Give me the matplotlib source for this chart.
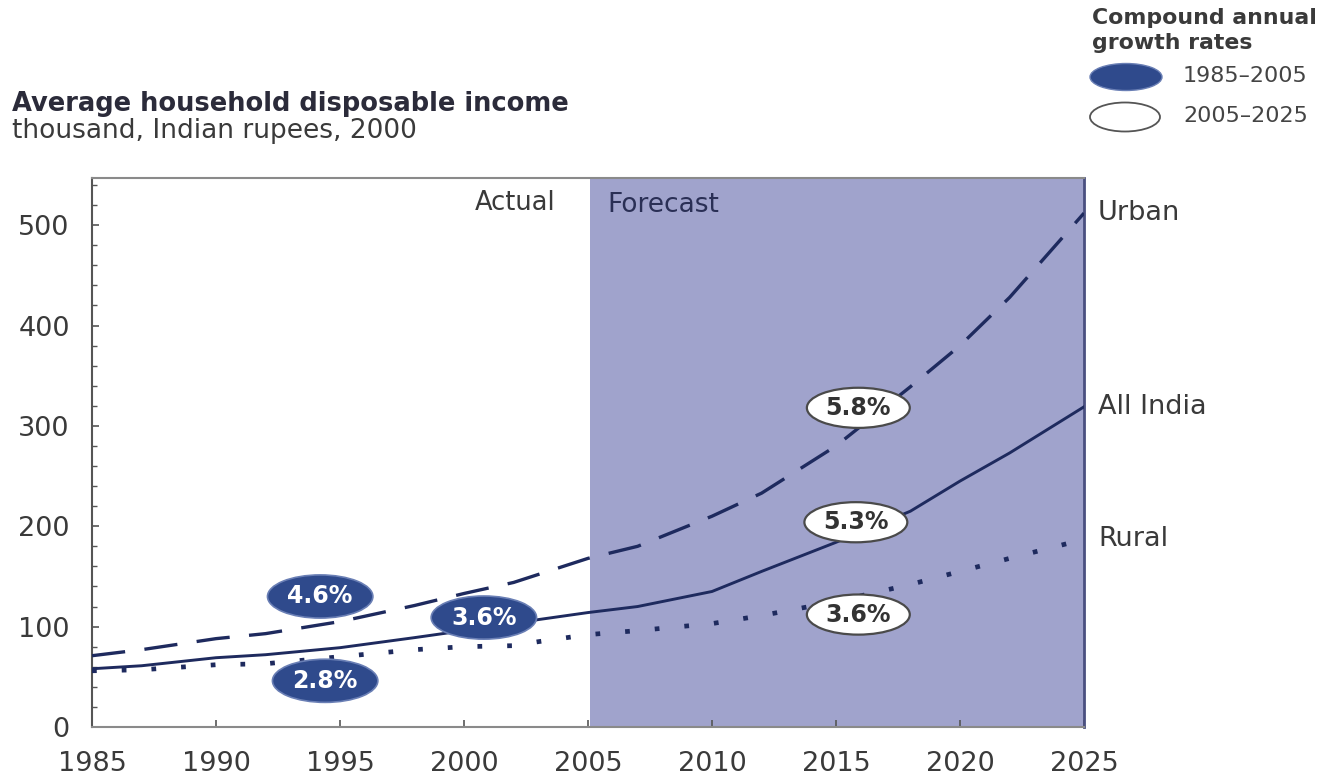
import matplotlib
matplotlib.use("Agg")
import matplotlib.pyplot as plt
from matplotlib.patches import Ellipse

plt.rcParams['font.family'] = ['DejaVu Sans']
plt.rcParams['lines.scale_dashes'] = False

# ---- data ----
years = [1985, 1987, 1990, 1992, 1995, 1998, 2000, 2002, 2003, 2005, 2007,
         2010, 2012, 2015, 2018, 2020, 2022, 2025]
urban = [71, 77, 88, 93, 105, 121, 133, 144, 152, 168, 180,
         210, 233, 280, 339, 380, 428, 512]
all_india = [58, 61, 69, 72, 79, 89, 96, 103, 107, 114, 120,
             135, 155, 184, 215, 245, 273, 319]
rural = [56, 57, 62, 63, 70, 77, 80, 81, 85, 92, 96,
         103, 111, 125, 142, 155, 168, 187]
series_names = ["Urban", "All India", "Rural"]

bubble_labels = ["4.6%", "3.6%", "2.8%", "5.8%", "5.3%", "3.6%"]
bubble_x = [1994.2, 2000.8, 1994.4, 2015.9, 2015.8, 2015.9]
bubble_y = [130, 109, 46, 318, 204, 112]
bubble_filled = [True, True, True, False, False, False]

x_ticks = [1985, 1990, 1995, 2000, 2005, 2010, 2015, 2020, 2025]
y_ticks = [0, 100, 200, 300, 400, 500]

navy = "#1e2a5e"
bubble_blue = "#2f4a8c"
shade = "#a0a3cc"
grey_text = "#3a3a3a"

fig = plt.figure(figsize=(13.26, 7.78), dpi=100)
ax = fig.add_axes([0.0694, 0.0656, 0.8175 - 0.0694, 0.7712 - 0.0656])

ax.axvspan(2005.1, 2025, color=shade, zorder=0, lw=0)

ax.plot(years, urban, color=navy, lw=2.4, dashes=[24, 14],
        dash_capstyle='butt', zorder=3)
ax.plot(years, all_india, color=navy, lw=2.1, zorder=3)
ax.plot(years, rural, color=navy, lw=3.4, dashes=[3.4, 18],
        dash_capstyle='butt', zorder=3)

ax.set_xlim(1985, 2025)
ax.set_ylim(0, 547)
ax.set_xticks(x_ticks)
ax.set_yticks(y_ticks)
ax.set_yticks(range(0, 541, 20), minor=True)
ax.tick_params(axis='both', which='both', direction='in', colors='#555555',
               labelcolor=grey_text, labelsize=19.5)
ax.tick_params(axis='y', which='major', length=5, width=1.2, pad=16)
ax.tick_params(axis='y', which='minor', length=3.5, width=1.0)
ax.tick_params(axis='x', which='major', length=5, width=1.2, pad=17)
for side in ['top', 'bottom']:
    ax.spines[side].set_color('#8a8a8a')
    ax.spines[side].set_linewidth(1.5)
ax.spines['left'].set_color('#555555')
ax.spines['left'].set_linewidth(1.5)
ax.spines['right'].set_color('#4a4f80')
ax.spines['right'].set_linewidth(2)

# Bubbles
for lab, bx, by, filled in zip(bubble_labels, bubble_x, bubble_y, bubble_filled):
    if filled:
        e = Ellipse((bx, by), 4.25, 43, facecolor=bubble_blue,
                    edgecolor="#6a7fb5", lw=1.2, zorder=5)
        tc = "white"
    else:
        e = Ellipse((bx, by), 4.15, 40, facecolor="white",
                    edgecolor="#4a4a4a", lw=1.6, zorder=5)
        tc = "#333333"
    ax.add_patch(e)
    ax.text(bx, by, lab, ha='center', va='center', color=tc,
            fontsize=17, fontweight='bold', zorder=6)

# Actual / Forecast
ax.text(2003.7, 522, "Actual", ha='right', va='center', fontsize=18.5,
        color=grey_text)
ax.text(2005.8, 520, "Forecast", ha='left', va='center', fontsize=19,
        color="#2a2f55")

# Series end labels
for name, vals in zip(series_names, [urban, all_india, rural]):
    ax.annotate(name, xy=(years[-1], vals[-1]), xytext=(10, 0),
                textcoords='offset points', ha='left', va='center',
                fontsize=19.5, color=grey_text, annotation_clip=False)

# Title
fig.text(12 / 1326, 1 - 104 / 778, "Average household disposable income",
         ha='left', va='center', fontsize=18.5, fontweight='bold',
         color="#2b2b3a")
fig.text(12 / 1326, 1 - 131 / 778, "thousand, Indian rupees, 2000",
         ha='left', va='center', fontsize=19, color=grey_text)

# Legend (top right)
fig.text(1092 / 1326, 1 - 18 / 778, "Compound annual", ha='left',
         va='center', fontsize=15.8, fontweight='bold', color="#3a3a3a")
fig.text(1092 / 1326, 1 - 43 / 778, "growth rates", ha='left',
         va='center', fontsize=15.8, fontweight='bold', color="#3a3a3a")
fig.add_artist(Ellipse((1126 / 1326, 1 - 77 / 778), 72 / 1326, 27 / 778,
                       transform=fig.transFigure, facecolor=bubble_blue,
                       edgecolor="#6a7fb5", lw=1.0))
fig.add_artist(Ellipse((1125 / 1326, 1 - 117 / 778), 70 / 1326, 29 / 778,
                       transform=fig.transFigure, facecolor="white",
                       edgecolor="#555555", lw=1.3))
fig.text(1183 / 1326, 1 - 76 / 778, "1985–2005", ha='left', va='center',
         fontsize=16, color="#444444")
fig.text(1183 / 1326, 1 - 116 / 778, "2005–2025", ha='left', va='center',
         fontsize=16, color="#444444")

fig.savefig("out.png", dpi=100)
